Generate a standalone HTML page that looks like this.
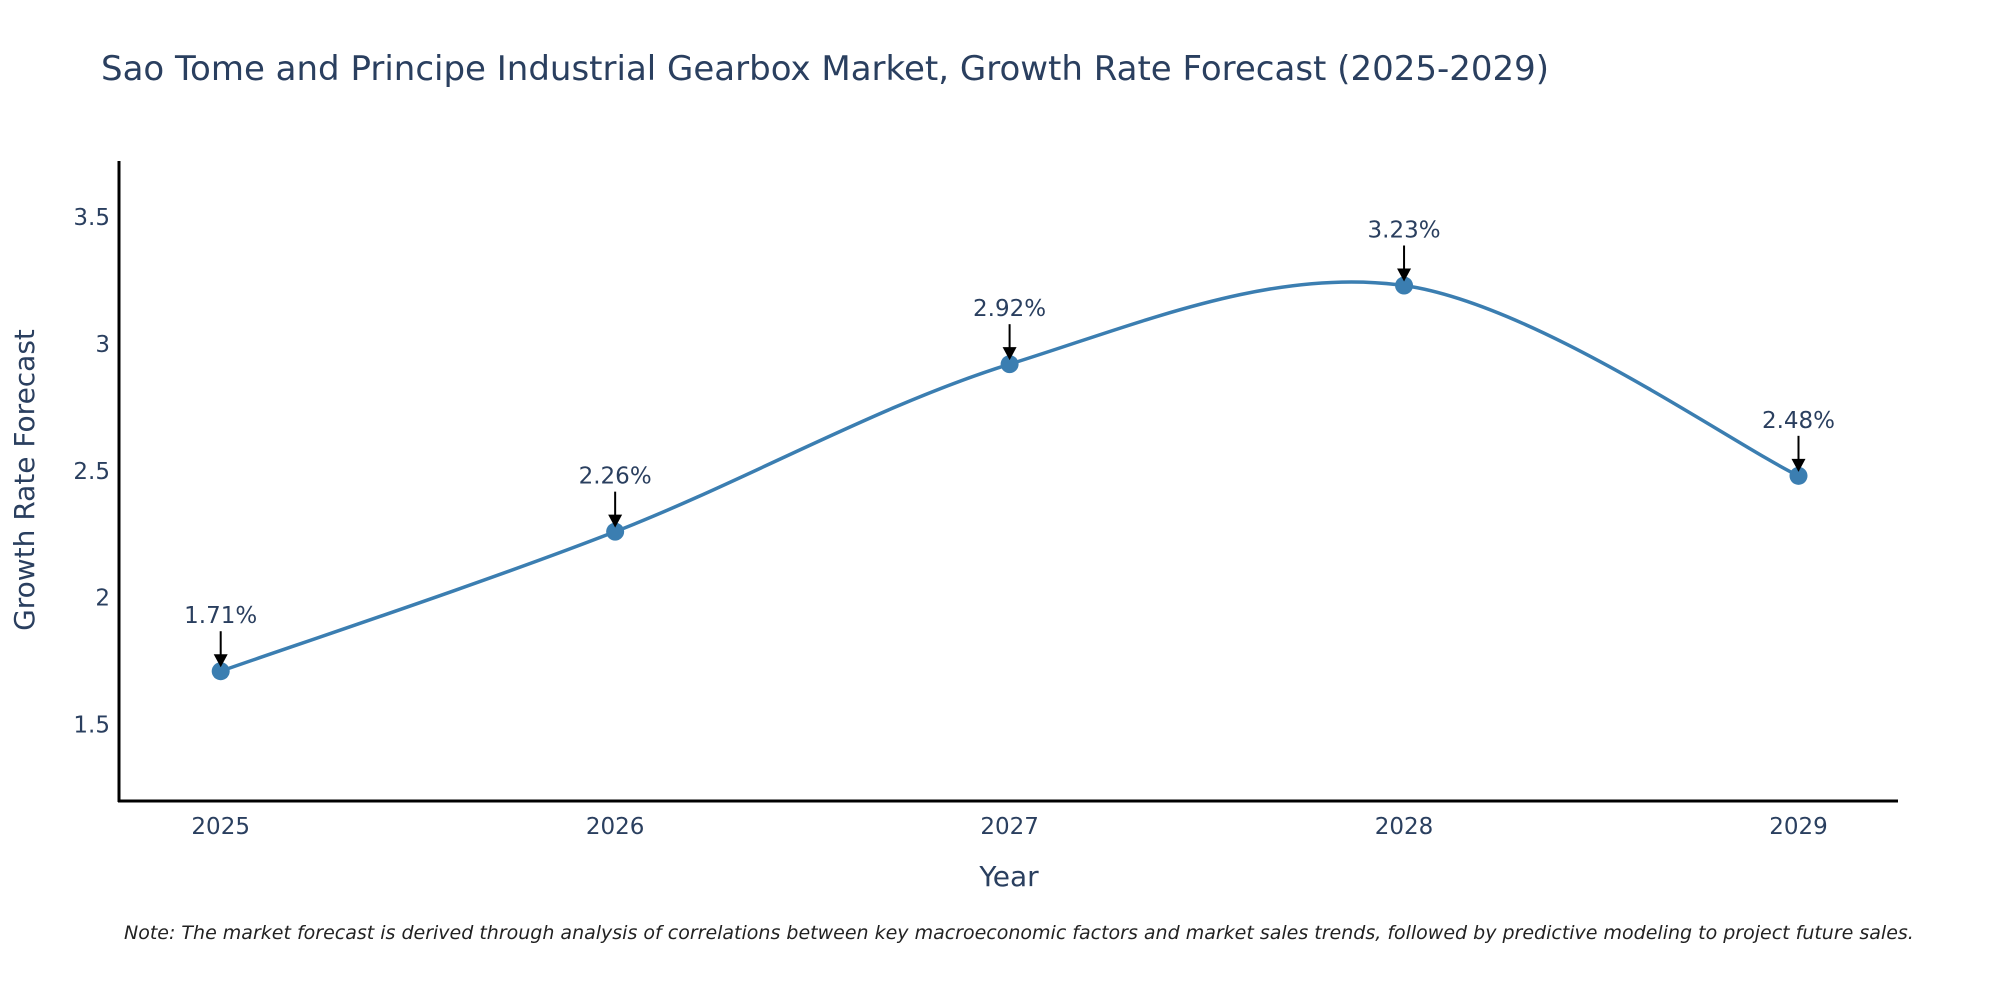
<!DOCTYPE html>
<html><head><meta charset="utf-8"><style>
body{margin:0;background:#fff;}
svg{font-family:"DejaVu Sans","Liberation Sans",sans-serif;}
</style></head><body>
<svg width="2000" height="1000" viewBox="0 0 2000 1000">
<text x="101" y="80" font-size="34" fill="#2a3f5f">Sao Tome and Principe Industrial Gearbox Market, Growth Rate Forecast (2025-2029)</text>
<g id="yticks"></g><g id="xticks"></g>
<line x1="119" y1="161" x2="119" y2="802" stroke="#000" stroke-width="3"/>
<line x1="118" y1="801" x2="1898" y2="801" stroke="#000" stroke-width="3"/>
<g id="series"></g><g id="annots"></g>
<text x="0" y="0" transform="translate(34,480) rotate(-90)" text-anchor="middle" font-size="28" fill="#2a3f5f">Growth Rate Forecast</text>
<text x="1009" y="886" text-anchor="middle" font-size="28" fill="#2a3f5f">Year</text>
<text x="124" y="939" font-size="19" font-style="italic" fill="#222">Note: The market forecast is derived through analysis of correlations between key macroeconomic factors and market sales trends, followed by predictive modeling to project future sales.</text>
</svg>
<script>
const years=[2025,2026,2027,2028,2029];
const values=[1.71,2.26,2.92,3.23,2.48];
const labels=["1.71%","2.26%","2.92%","3.23%","2.48%"];
const yTicks=[1.5,2,2.5,3,3.5];
const yTickLabels=["1.5","2","2.5","3","3.5"];
const NS="http://www.w3.org/2000/svg";
const X=v=>220.7+(v-2025)*394.45;
const Y=v=>724.5-(v-1.5)*253.75;
function mk(tag,attrs,parent){const e=document.createElementNS(NS,tag);for(const k in attrs)e.setAttribute(k,attrs[k]);parent.appendChild(e);return e;}
const yt=document.getElementById('yticks');
yTicks.forEach((t,i)=>{const e=mk('text',{x:110,y:Y(t)+8,'text-anchor':'end','font-size':23,fill:'#2a3f5f'},yt);e.textContent=yTickLabels[i];

});
const xt=document.getElementById('xticks');
years.forEach(y=>{const e=mk('text',{x:X(y),y:834,'text-anchor':'middle','font-size':23,fill:'#2a3f5f'},xt);e.textContent=String(y);

});
const pts=years.map((y,i)=>[X(y),Y(values[i])]);
let d=`M${pts[0][0]},${pts[0][1]}`;
const t=0.5;
for(let i=0;i<pts.length-1;i++){const p0=pts[Math.max(i-1,0)],p1=pts[i],p2=pts[i+1],p3=pts[Math.min(i+2,pts.length-1)];
const c1=[p1[0]+(p2[0]-p0[0])*t/3,p1[1]+(p2[1]-p0[1])*t/3];
const c2=[p2[0]-(p3[0]-p1[0])*t/3,p2[1]-(p3[1]-p1[1])*t/3];
d+=` C${c1[0]},${c1[1]} ${c2[0]},${c2[1]} ${p2[0]},${p2[1]}`;}
const s=document.getElementById('series');
const line=mk('path',{d:d,fill:'none',stroke:'#3b7eb1','stroke-width':3.5},s);


const an=document.getElementById('annots');
pts.forEach((p,i)=>{const c=mk('circle',{cx:p[0],cy:p[1],r:9,fill:'#3b7eb1'},s);


mk('line',{x1:p[0],y1:p[1]-40,x2:p[0],y2:p[1]-14,stroke:'#000','stroke-width':2},an);
mk('path',{d:`M${p[0]-7},${p[1]-17} L${p[0]+7},${p[1]-17} L${p[0]},${p[1]-4} Z`,fill:'#000'},an);
const tx=mk('text',{x:p[0],y:p[1]-48,'text-anchor':'middle','font-size':23,fill:'#2a3f5f'},an);tx.textContent=labels[i];

});
</script>
</body></html>
